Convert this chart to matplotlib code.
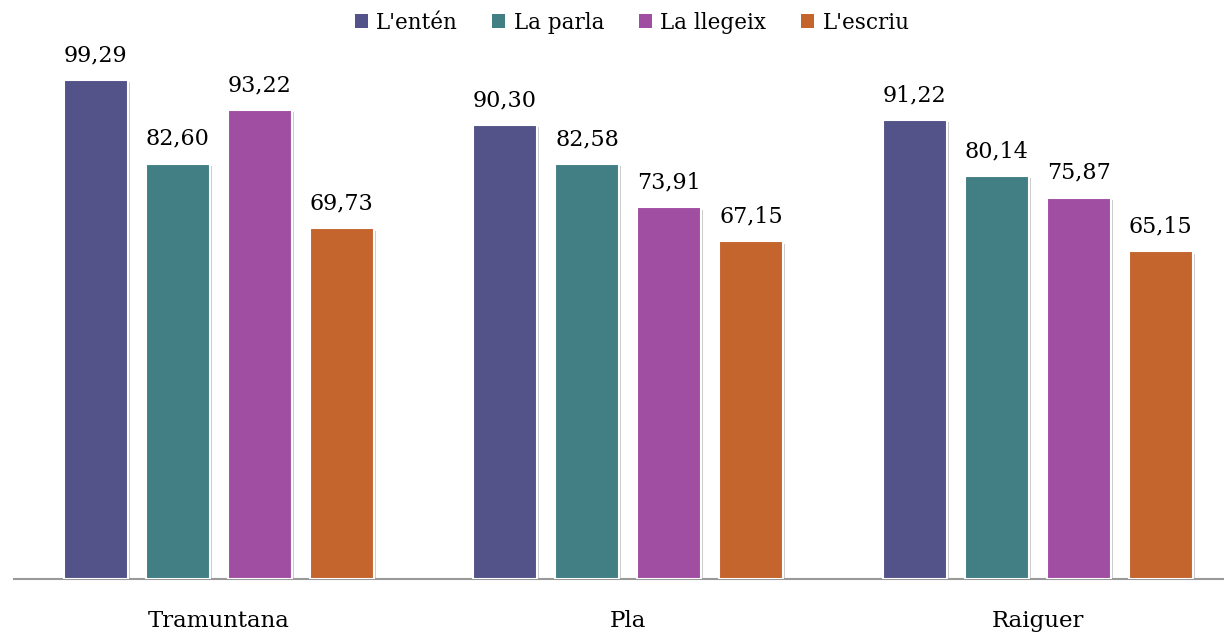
import numpy as np
import matplotlib.pyplot as plt
import matplotlib.patheffects as pe

regions = ['Tramuntana', 'Pla', 'Raiguer']
series = ["L'entén", 'La parla', 'La llegeix', "L'escriu"]
enten = [99.29, 90.30, 91.22]
parla = [82.60, 82.58, 80.14]
llegeix = [93.22, 73.91, 75.87]
escriu = [69.73, 67.15, 65.15]
colors = ['#535389', '#417F85', '#A04EA2', '#C4652E']

plt.rcParams['font.family'] = ['DejaVu Serif']

fig = plt.figure(figsize=(12.24, 6.35), dpi=100)
ax = fig.add_axes([13.75 / 1224, 1 - 579 / 635, (1224 - 13.75) / 1224, 553 / 635])

x = np.arange(len(regions))
width = 64 / 409.5
step = 82 / 409.5
values = [enten, parla, llegeix, escriu]

all_bars = []
for i, (name, vals) in enumerate(zip(series, values)):
    pos = x + (i - 1.5) * step
    bars = ax.bar(pos, vals, width, color=colors[i], edgecolor='white', linewidth=1.5,
                  label=name, zorder=3)
    all_bars.extend(bars)
    for p, v in zip(pos, vals):
        ax.annotate(f'{v:.2f}'.replace('.', ','), (p, v), xytext=(0, 10),
                    textcoords='offset points', ha='center', va='bottom', fontsize=16)

ax.set_xlim(-0.5, 2.455)
ax.set_ylim(0, 110)
ax.set_xticks(x)
ax.set_xticklabels(regions, fontsize=16.5)
ax.tick_params(axis='x', length=0, pad=22)
ax.set_yticks([])
for s in ['top', 'right', 'left']:
    ax.spines[s].set_visible(False)
ax.spines['bottom'].set_color('#999999')
ax.spines['bottom'].set_linewidth(1.5)

leg = fig.legend(loc='upper center', bbox_to_anchor=(632 / 1224, 1.005), ncol=4,
                 frameon=False, fontsize=15.5, handlelength=0.6, handleheight=0.6,
                 handletextpad=0.4, columnspacing=1.6, borderaxespad=0.3)
for h in leg.legend_handles:
    h.set_edgecolor('none')

# soft shadow on the bars, added after the legend so the keys stay flat
shadow = [pe.SimplePatchShadow(offset=(1.5, -1.5), shadow_rgbFace='#999999', alpha=0.5), pe.Normal()]
for b in all_bars:
    b.set_path_effects(shadow)

fig.savefig('out.png', dpi=100)
